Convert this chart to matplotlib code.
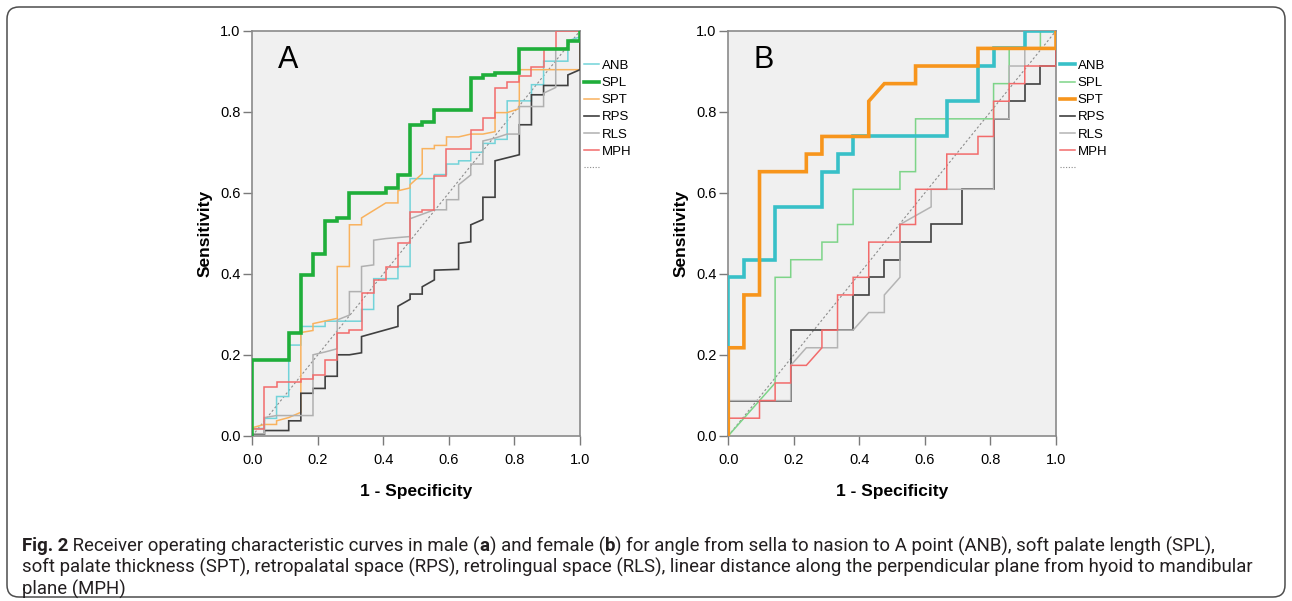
import matplotlib
matplotlib.use("Agg")
import matplotlib.pyplot as plt
from matplotlib.lines import Line2D
from matplotlib.patches import FancyBboxPatch
from matplotlib.transforms import IdentityTransform

# ---- data ----
# panel A (male): x in steps of 1/27, y as read
n_neg_a = 27
anb_a_k = [0,0,1,1,2,2,3,3,4,4,6,6,9,9,10,10,12,12,13,13,15,15,16,16,17,17,18,18,19,19,20,20,21,21,23,23,24,24,26,26,27,27]
anb_a_y = [0,0.018,0.018,0.043,0.043,0.097,0.097,0.224,0.224,0.27,0.27,0.283,0.283,0.312,0.312,0.388,0.388,0.418,0.418,0.635,0.635,0.645,0.645,0.671,0.671,0.679,0.679,0.70,0.70,0.722,0.722,0.732,0.732,0.827,0.827,0.867,0.867,0.925,0.925,0.975,0.985,1.0]
spl_a_k = [0,0,3,3,4,4,5,5,6,6,7,7,8,8,11,11,12,12,13,13,14,14,15,15,18,18,19,19,20,20,22,22,26,26,27,27]
spl_a_y = [0,0.186,0.186,0.255,0.255,0.397,0.397,0.448,0.448,0.531,0.531,0.538,0.538,0.600,0.600,0.613,0.613,0.645,0.645,0.768,0.768,0.776,0.776,0.805,0.805,0.883,0.883,0.890,0.890,0.897,0.897,0.956,0.956,0.974,0.974,1.0]
spt_a_k = [0,0,1,2,2,3,4,4,5,5,7,7,8,8,9,9,11,12,12,13,13,14,14,15,15,16,16,17,18,19,20,20,21,22,22,27,27]
spt_a_y = [0,0.02,0.028,0.028,0.037,0.045,0.058,0.255,0.26,0.277,0.29,0.418,0.418,0.521,0.521,0.538,0.575,0.575,0.605,0.612,0.62,0.647,0.709,0.709,0.717,0.717,0.738,0.738,0.745,0.745,0.751,0.798,0.798,0.808,0.904,0.904,1.0]
rps_a_k = [0,0,1,1,3,3,4,4,5,5,6,6,7,7,8,9,9,12,12,13,13,14,14,15,15,17,17,18,18,19,19,20,20,22,22,23,23,24,24,26,26,27,27]
rps_a_y = [0,0.004,0.004,0.013,0.013,0.037,0.037,0.105,0.105,0.117,0.117,0.147,0.147,0.2,0.2,0.205,0.245,0.27,0.32,0.337,0.35,0.35,0.368,0.385,0.409,0.411,0.475,0.479,0.521,0.534,0.589,0.589,0.679,0.694,0.768,0.768,0.842,0.842,0.865,0.865,0.891,0.904,1.0]
rls_a_k = [0,0,1,1,2,5,5,6,7,7,8,8,9,9,10,10,11,13,13,15,16,16,17,17,18,18,19,19,20,21,22,22,24,24,25,25,26,26,27,27]
rls_a_y = [0,0.005,0.005,0.045,0.05,0.05,0.2,0.207,0.215,0.286,0.298,0.356,0.356,0.418,0.422,0.483,0.487,0.492,0.536,0.558,0.558,0.583,0.583,0.62,0.644,0.671,0.671,0.728,0.735,0.745,0.745,0.813,0.813,0.846,0.86,0.956,0.956,0.975,0.975,1.0]
mph_a_k = [0,0,1,1,2,2,4,4,5,5,6,6,7,7,8,8,9,9,10,10,11,11,12,12,13,13,14,14,15,15,16,16,18,18,19,19,20,20,21,21,22,22,23,23,24,24,25,25,27]
mph_a_y = [0,0.017,0.017,0.121,0.121,0.134,0.134,0.14,0.14,0.151,0.151,0.187,0.187,0.253,0.253,0.261,0.261,0.352,0.352,0.385,0.385,0.418,0.418,0.475,0.475,0.552,0.552,0.558,0.558,0.642,0.642,0.709,0.709,0.756,0.756,0.784,0.784,0.858,0.858,0.874,0.874,0.889,0.889,0.91,0.91,0.955,0.955,1.0,1.0]

# panel B (female): x in steps of 1/21, y in steps of 1/23
n_neg_b = 21
n_pos_b = 23
anb_b_k = [0,0,1,1,3,3,6,6,7,7,8,8,14,14,16,16,17,17,19,19,21]
anb_b_j = [0,9,9,10,10,13,13,15,15,16,16,17,17,19,19,21,21,22,22,23,23]
spl_b_k = [0,3,3,4,4,6,6,7,7,8,8,11,11,12,12,17,17,18,18,20,20,21]
spl_b_j = [0,3,9,9,10,10,11,11,12,12,14,14,15,15,18,18,20,20,22,22,23,23]
spt_b_k = [0,0,1,1,2,2,5,5,6,6,9,9,10,12,12,16,16,21,21]
spt_b_j = [0,5,5,8,8,15,15,16,16,17,17,19,20,20,21,21,22,22,23]
rps_b_k = [0,0,4,4,8,8,9,9,10,10,11,11,13,13,15,15,17,17,18,18,19,19,20,20,21,21]
rps_b_j = [0,2,2,6,6,8,8,9,9,10,10,11,11,12,12,14,14,18,18,19,19,20,20,21,21,23]
rls_b_k = [0,0,4,4,5,7,7,8,9,10,10,11,11,13,13,17,17,18,18,19,19,21]
rls_b_j = [0,2,2,4,5,5,6,6,7,7,8,9,12,13,14,14,18,18,21,21,23,23]
mph_b_k = [0,0,2,2,3,3,4,4,5,6,6,7,7,8,8,9,9,11,11,12,12,14,14,16,16,17,17,18,18,19,19,21,21]
mph_b_j = [0,1,1,2,2,3,3,4,4,5,6,6,8,8,9,9,11,11,12,12,14,14,16,16,17,17,19,19,20,20,21,21,23]

labels = ['ANB', 'SPL', 'SPT', 'RPS', 'RLS', 'MPH']
ticks = [0.0, 0.2, 0.4, 0.6, 0.8, 1.0]
tick_labels = ['0.0', '0.2', '0.4', '0.6', '0.8', '1.0']

colors_a = ['#72d3d9', '#1fae3a', '#f9b25e', '#404040', '#b0b0b0', '#f26b6b']
widths_a = [1.1, 2.6, 1.1, 1.2, 1.1, 1.1]
colors_b = ['#38c0c8', '#7dd488', '#f7951c', '#404040', '#b4b4b4', '#f26b6b']
widths_b = [2.6, 1.1, 2.6, 1.2, 1.1, 1.1]

curves_a = [(anb_a_k, anb_a_y), (spl_a_k, spl_a_y), (spt_a_k, spt_a_y),
            (rps_a_k, rps_a_y), (rls_a_k, rls_a_y), (mph_a_k, mph_a_y)]
curves_b = [(anb_b_k, anb_b_j), (spl_b_k, spl_b_j), (spt_b_k, spt_b_j),
            (rps_b_k, rps_b_j), (rls_b_k, rls_b_j), (mph_b_k, mph_b_j)]

W, H = 1292, 601
fig = plt.figure(figsize=(W / 100, H / 100), dpi=100)
fig.patch.set_facecolor('white')

plt.rcParams['font.family'] = ['Liberation Sans', 'DejaVu Sans']
cap_font = ['Roboto', 'DejaVu Sans']


def roc_panel(left, letter, curves, colors, widths, n_x, n_y):
    ax = fig.add_axes([left / W, 1 - 435.8 / H, 327.7 / W, 405 / H])
    ax.set_facecolor('#f0f0f0')
    for (xs, ys), c, lw in zip(curves, colors, widths):
        xv = [v / n_x for v in xs]
        yv = [v / n_y for v in ys]
        ax.plot(xv, yv, color=c, lw=lw, zorder=4 if lw > 2 else 3,
                solid_joinstyle='miter')
    ax.plot([0, 1], [0, 1], color='#8c8c8c', lw=0.8, ls=(0, (2, 2)), zorder=2)
    ax.set_xlim(0, 1)
    ax.set_ylim(0, 1)
    ax.set_xticks(ticks)
    ax.set_yticks(ticks)
    ax.set_xticklabels(tick_labels, fontsize=10.5)
    ax.set_yticklabels(tick_labels, fontsize=10.5)
    ax.tick_params(length=6.5, width=1, color='#7a7a7a')
    ax.tick_params(axis='x', pad=6)
    ax.tick_params(axis='y', pad=2)
    for s in ax.spines.values():
        s.set_color('#8a8a8a')
        s.set_linewidth(1.2)
    ax.set_xlabel('1 - Specificity', fontsize=12.5, fontweight='bold', labelpad=12)
    ax.set_ylabel('Sensitivity', fontsize=12.5, fontweight='bold', labelpad=5)
    ax.text(0.109, 0.928, letter, transform=ax.transAxes, fontsize=22,
            ha='center', va='center')
    handles = [Line2D([], [], color=c, lw=lw) for c, lw in zip(colors, widths)]
    handles.append(Line2D([], [], color='#8c8c8c', lw=0.8, ls=(0, (1, 1.5))))
    ax.legend(handles, labels + [' '], loc='upper left', bbox_to_anchor=(1.0, 0.938),
              frameon=False, fontsize=9.5, handlelength=1.15, handletextpad=0.2,
              labelspacing=0.37, borderaxespad=0, borderpad=0.3)
    return ax


roc_panel(252.3, 'A', curves_a, colors_a, widths_a, n_neg_a, 1)
roc_panel(728.3, 'B', curves_b, colors_b, widths_b, n_neg_b, n_pos_b)

# rounded frame around the whole figure
frame = FancyBboxPatch((7, 4), W - 14, H - 11, boxstyle='round,pad=0,rounding_size=12',
                       transform=IdentityTransform(), fill=False, ec='#4d4d4d', lw=1.1)
fig.patches.append(frame)

# caption with bold runs
cap_lines = [
    [('Fig. 2', 'bold'), (' Receiver operating characteristic curves in male (', 'normal'), ('a', 'bold'),
     (') and female (', 'normal'), ('b', 'bold'),
     (') for angle from sella to nasion to A point (ANB), soft palate length (SPL),', 'normal')],
    [('soft palate thickness (SPT), retropalatal space (RPS), retrolingual space (RLS), linear distance along the perpendicular plane from hyoid to mandibular', 'normal')],
    [('plane (MPH)', 'normal')],
]
cap_y = [546, 567.5, 589]
cap_targets = [1243, 1223]

renderer = fig.canvas.get_renderer()


def text_width(s, weight, size):
    a = fig.text(0, 0, '|' + s + '|', fontsize=size, fontweight=weight, family=cap_font)
    b = fig.text(0, 0, '||', fontsize=size, fontweight=weight, family=cap_font)
    w = a.get_window_extent(renderer).width - b.get_window_extent(renderer).width
    a.remove()
    b.remove()
    return w


# choose the caption size so the long lines fit their original width
base = 11
cap_size = min(base * t / sum(text_width(s, wt, base) for s, wt in runs)
               for runs, t in zip(cap_lines, cap_targets))

for runs, y in zip(cap_lines, cap_y):
    x = 22
    for s, wt in runs:
        fig.text(x / W, 1 - y / H, s, fontsize=cap_size, fontweight=wt, family=cap_font,
                 color='#231f20', va='center', ha='left')
        x += text_width(s, wt, cap_size)

fig.savefig('out.png', dpi=100)
